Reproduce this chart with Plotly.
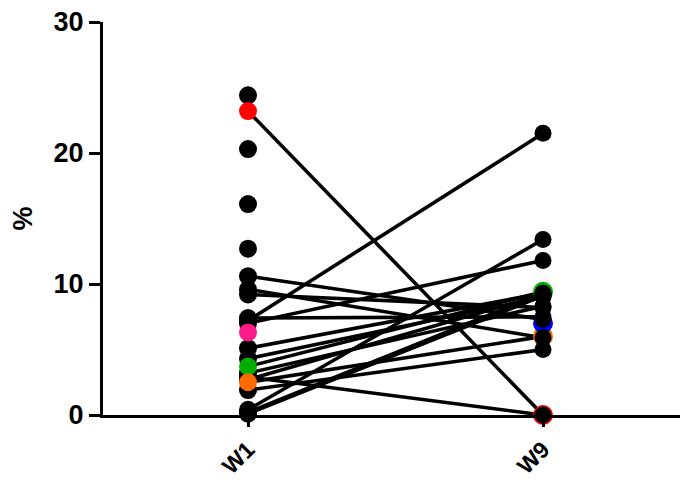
import plotly.graph_objects as go

categories = ["W1", "W9"]
# paired subject values (None = missing)
w1_values = [24.4, 23.2, 20.3, 16.1, 12.7, 10.6, 9.6, 9.2, 7.4, 7.2, 7.0, 6.3, 5.1, 4.3, 3.7, 3.2, 2.9, 2.5, 1.9, 2.7, 0.4, 0.2, 0.1, None]
w9_values = [None, 0.0, None, None, None, 7.3, 5.9, 8.2, 7.5, 21.5, 11.8, None, 9.3, 9.0, 9.4, 8.3, 0.0, 6.0, 5.0, 9.2, 13.4, 9.3, 9.1, 7.0]
subject_colors = ["black", "red", "black", "black", "black", "black", "black", "black", "black", "black", "black",
                  "#ff1a8c", "black", "black", "#00b000", "black", "black", "#ff6a00", "black", "black", "black",
                  "black", "black", "#0000ff"]
y_ticks = [0, 10, 20, 30]
y_title = "%"

xpos = {c: i for i, c in enumerate(categories)}
fig = go.Figure()

# connecting lines
for a, b in zip(w1_values, w9_values):
    if a is not None and b is not None:
        fig.add_trace(go.Scatter(x=[0, 1], y=[a, b], mode="lines",
                                 line=dict(color="black", width=3.6), showlegend=False,
                                 hoverinfo="skip"))

MS = 18
# W1 markers: black first, colored on top
order1 = sorted(range(len(w1_values)), key=lambda i: subject_colors[i] != "black")
for i in order1:
    if w1_values[i] is not None:
        fig.add_trace(go.Scatter(x=[xpos["W1"]], y=[w1_values[i]], mode="markers",
                                 marker=dict(color=subject_colors[i], size=MS, line=dict(width=0)),
                                 showlegend=False, cliponaxis=False))
# W9 markers: colored first, black on top
order9 = sorted(range(len(w9_values)), key=lambda i: subject_colors[i] == "black")
for i in order9:
    if w9_values[i] is not None:
        fig.add_trace(go.Scatter(x=[xpos["W9"]], y=[w9_values[i]], mode="markers",
                                 marker=dict(color=subject_colors[i], size=MS + (2 if subject_colors[i] != "black" else -1),
                                             line=dict(width=0)),
                                 showlegend=False, cliponaxis=False))

font_main = "Liberation Sans, Arial, sans-serif"
fig.update_layout(
    width=680, height=472,
    margin=dict(l=95, r=0, t=14, b=65),
    plot_bgcolor="white", paper_bgcolor="white",
    showlegend=False,
    xaxis=dict(range=[-0.4915, 1.4915], tickmode="array", tickvals=[0, 1], ticktext=categories,
               showline=True, linecolor="black", linewidth=3, ticks="outside", ticklen=9,
               tickwidth=3, tickcolor="black", tickangle=-45, showgrid=False, zeroline=False,
               automargin=False, ticklabeloverflow="allow",
               tickfont=dict(family=font_main, size=23, color="black", weight="bold")),
    yaxis=dict(range=[0, 30], tickmode="array", tickvals=y_ticks,
               showline=True, linecolor="black", linewidth=3, ticks="outside", ticklen=11,
               tickwidth=3, tickcolor="black", showgrid=False, zeroline=False,
               automargin=False, ticklabeloverflow="allow",
               tickfont=dict(family=font_main, size=27, color="black", weight="bold"),
               title=dict(text=y_title, font=dict(family=font_main, size=27, color="black", weight="bold"),
                          standoff=16)),
)

fig.write_html("out.html")
